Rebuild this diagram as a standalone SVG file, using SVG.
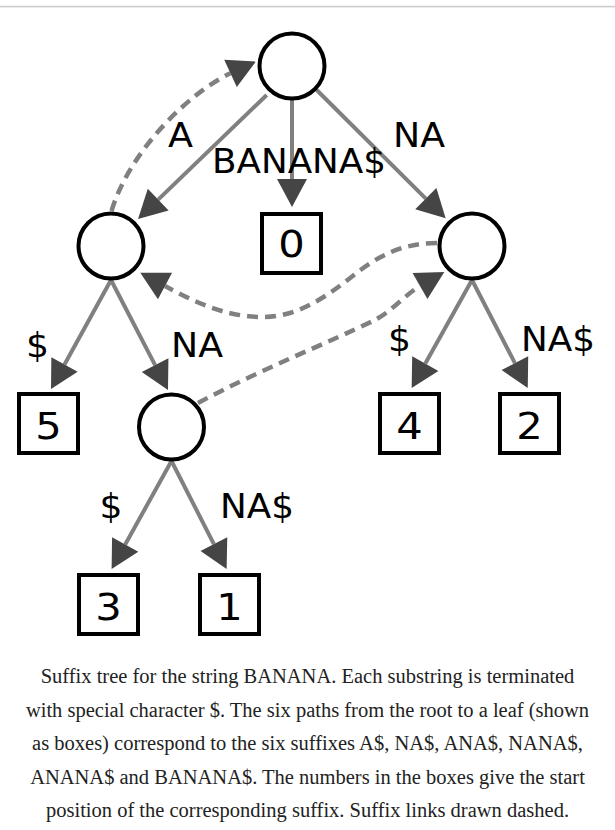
<svg xmlns="http://www.w3.org/2000/svg" width="615" height="830" viewBox="0 0 615 830">
<style>
.edge{fill:none;stroke:#808080;stroke-width:4}
.link{fill:none;stroke:#808080;stroke-width:4.5;stroke-dasharray:11,7}
.node{fill:#fff;stroke:#000;stroke-width:4}
.lbl{font-family:"DejaVu Sans",sans-serif;font-size:33px;fill:#000;text-anchor:middle}
.num{font-family:"DejaVu Sans",sans-serif;font-size:38px;fill:#000;text-anchor:middle}
.cap{font-family:"Liberation Serif",serif;font-size:20.5px;fill:#222;text-anchor:middle}
</style>
<defs>
<marker id="arr" markerUnits="userSpaceOnUse" orient="auto" markerWidth="40" markerHeight="40" refX="0" refY="0" overflow="visible">
<path d="M0,-15 L28,0 L0,15 Z" fill="#454545"/>
</marker>
</defs>
<rect x="0" y="5.8" width="615" height="1.6" fill="#cccccc"/>
<g id="connectors">
<path class="edge" d="M266.7,95 L158.2,199.6" marker-end="url(#arr)"/>
<path class="edge" d="M292,99 L292,179" marker-end="url(#arr)"/>
<path class="edge" d="M316.7,90 L425.8,198.6" marker-end="url(#arr)"/>
<path class="edge" d="M111,280 L64.5,364.5" marker-end="url(#arr)"/>
<path class="edge" d="M111,280 L155.1,365.1" marker-end="url(#arr)"/>
<path class="edge" d="M472,280 L425.3,363.6" marker-end="url(#arr)"/>
<path class="edge" d="M472,280 L514.9,363.1" marker-end="url(#arr)"/>
<path class="edge" d="M171.5,461 L125.2,544.5" marker-end="url(#arr)"/>
<path class="edge" d="M171.5,461 L213.9,544.1" marker-end="url(#arr)"/>
<path class="link" d="M111.5,211 C129.5,151 189.6,92.2 230.5,73.3" marker-end="url(#arr)"/>
<path class="link" d="M437,243 C395,243 370,262 345,282 C315,305 290,317 263,317 C225,317 195,302 165,286" marker-end="url(#arr)"/>
<path class="link" d="M198,403 C255,372 330,342 375,320 C392,311 406,294 420,286" marker-end="url(#arr)"/>
</g>
<g id="labels">
<text class="lbl" x="180.5" y="146.7" textLength="25" lengthAdjust="spacingAndGlyphs">A</text>
<text class="lbl" x="299" y="173.3" textLength="174" lengthAdjust="spacingAndGlyphs">BANANA$</text>
<text class="lbl" x="419" y="146.7" textLength="52" lengthAdjust="spacingAndGlyphs">NA</text>
<text class="lbl" x="37.5" y="357" textLength="23" lengthAdjust="spacingAndGlyphs">$</text>
<text class="lbl" x="197" y="357" textLength="52" lengthAdjust="spacingAndGlyphs">NA</text>
<text class="lbl" x="399.5" y="351" textLength="23" lengthAdjust="spacingAndGlyphs">$</text>
<text class="lbl" x="558" y="351" textLength="74" lengthAdjust="spacingAndGlyphs">NA$</text>
<text class="lbl" x="111" y="518" textLength="23" lengthAdjust="spacingAndGlyphs">$</text>
<text class="lbl" x="257" y="518" textLength="74" lengthAdjust="spacingAndGlyphs">NA$</text>
</g>
<g id="root"><circle class="node" cx="292" cy="66" r="32.5"/></g>
<g id="nodeA"><circle class="node" cx="111" cy="246" r="32.5"/></g>
<g id="nodeNA"><circle class="node" cx="472" cy="246" r="32.5"/></g>
<g id="nodeANA"><circle class="node" cx="171.5" cy="427" r="32.5"/></g>
<g id="leaf0"><rect class="node" x="262" y="214" width="59" height="59"/><text class="num" x="291.5" y="256.5" textLength="26.5" lengthAdjust="spacingAndGlyphs">0</text></g>
<g id="leaf5"><rect class="node" x="19" y="394" width="59" height="59"/><text class="num" x="48.5" y="438.5" textLength="26.5" lengthAdjust="spacingAndGlyphs">5</text></g>
<g id="leaf4"><rect class="node" x="380" y="394" width="59" height="59"/><text class="num" x="409.5" y="438.5" textLength="26.5" lengthAdjust="spacingAndGlyphs">4</text></g>
<g id="leaf2"><rect class="node" x="500" y="394" width="59" height="59"/><text class="num" x="529.5" y="438.5" textLength="26.5" lengthAdjust="spacingAndGlyphs">2</text></g>
<g id="leaf3"><rect class="node" x="79" y="575" width="59" height="59"/><text class="num" x="108.5" y="619.5" textLength="26.5" lengthAdjust="spacingAndGlyphs">3</text></g>
<g id="leaf1"><rect class="node" x="200" y="575" width="59" height="59"/><text class="num" x="229.5" y="619.5" textLength="26.5" lengthAdjust="spacingAndGlyphs">1</text></g>
<g id="caption">
<text class="cap" x="307.5" y="683">Suffix tree for the string BANANA. Each substring is terminated</text>
<text class="cap" x="307.5" y="716.5">with special character $. The six paths from the root to a leaf (shown</text>
<text class="cap" x="307.5" y="750">as boxes) correspond to the six suffixes A$, NA$, ANA$, NANA$,</text>
<text class="cap" x="307.5" y="783.5">ANANA$ and BANANA$. The numbers in the boxes give the start</text>
<text class="cap" x="307.5" y="817">position of the corresponding suffix. Suffix links drawn dashed.</text>
</g>
</svg>
